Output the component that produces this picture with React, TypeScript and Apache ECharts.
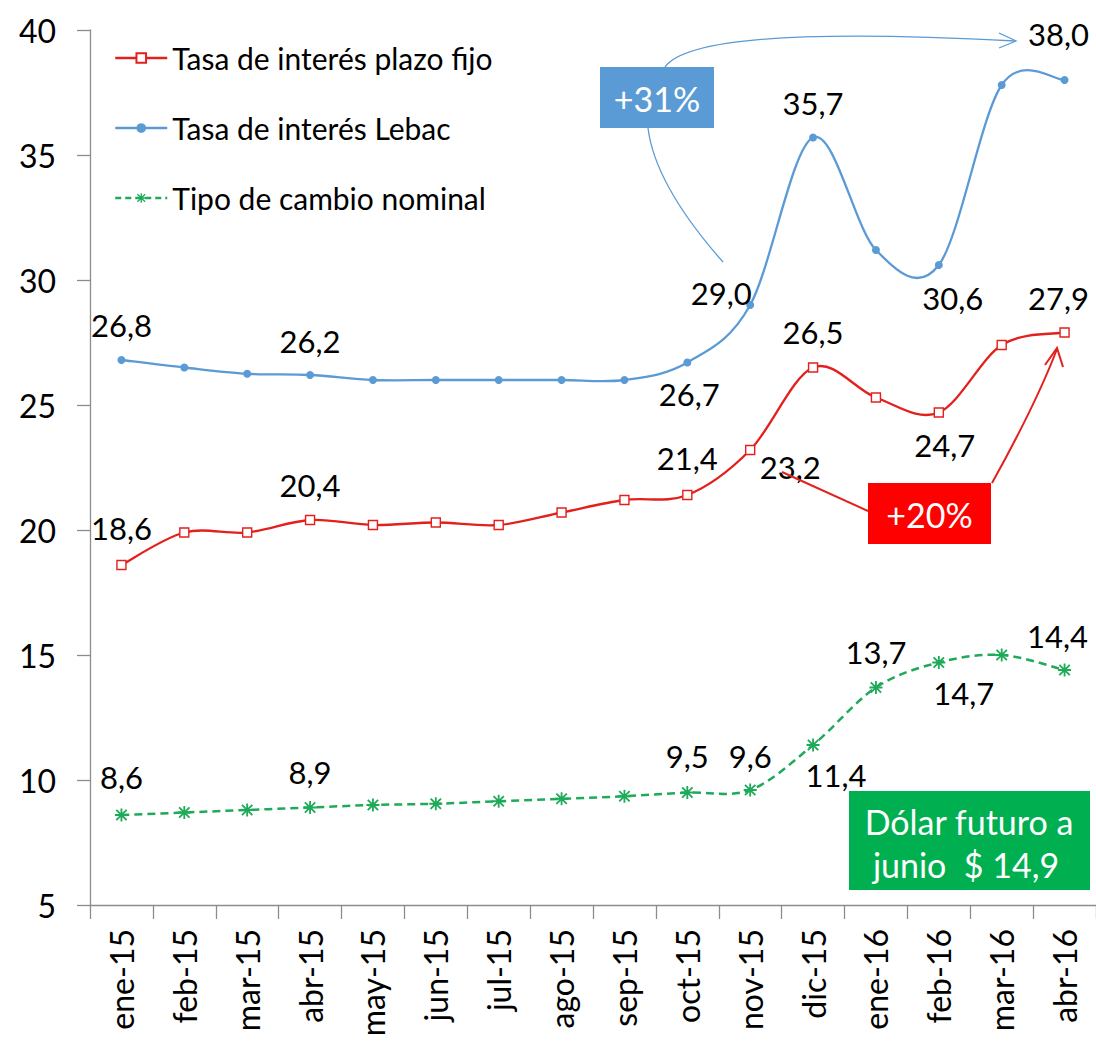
import React, { useEffect, useRef } from "react";
import * as echarts from "echarts";

const categories = [
  "ene-15", "feb-15", "mar-15", "abr-15", "may-15", "jun-15", "jul-15", "ago-15",
  "sep-15", "oct-15", "nov-15", "dic-15", "ene-16", "feb-16", "mar-16", "abr-16",
];
const seriesNames = ["Tasa de interés plazo fijo", "Tasa de interés Lebac", "Tipo de cambio nominal"];
const plazoFijo = [18.6, 19.9, 19.9, 20.4, 20.2, 20.3, 20.2, 20.7, 21.2, 21.4, 23.2, 26.5, 25.3, 24.7, 27.4, 27.9];
const lebac = [26.8, 26.5, 26.25, 26.2, 26.0, 26.0, 26.0, 26.0, 26.0, 26.7, 29.0, 35.7, 31.2, 30.6, 37.8, 38.0];
const tipoCambio = [8.6, 8.7, 8.8, 8.9, 9.0, 9.05, 9.15, 9.25, 9.35, 9.5, 9.6, 11.4, 13.7, 14.7, 15.0, 14.4];
const yMin = 5;
const yMax = 40;
const yStep = 5;

// which points carry a value label: [index, dx, dy] offset of the label centre from the point
const plazoLabels = [[0, 0, -37], [3, 0, -35], [9, 0, -37], [10, 40, 17], [11, 0, -36], [13, 6, 32], [15, -6, -35]];
const lebacLabels = [[0, 0, -35], [3, 0, -34], [9, 2, 31], [10, -29, -12], [11, 0, -35], [13, 14, 33], [15, -6, -46]];
const cambioLabels = [[0, 0, -38], [3, 0, -36], [9, 0, -37], [10, 0, -34], [11, 23, 30], [12, 0, -36], [13, 25, 30], [15, -7, -34]];

const annotations = {
  lebac: "+31%",
  plazo: "+20%",
  dolar1: "Dólar futuro a",
  dolar2: "junio  $ 14,9",
};

const FONT = "Lato, 'Open Sans', sans-serif";
const RED = "#E2201C";
const BLUE = "#5B9BD5";
const GREEN = "#1FAA5A";
const AXIS = "#8C8C8C";

const ASTERISK =
  "path://M0,4.3L10,4.3L10,5.7L0,5.7Z M4.3,0L5.7,0L5.7,10L4.3,10Z M0.5,1.5L1.5,0.5L9.5,8.5L8.5,9.5Z M8.5,0.5L9.5,1.5L1.5,9.5L0.5,8.5Z";

function withLabels(values: number[], labels: number[][]) {
  return values.map((v, i) => {
    const l = labels.find((x) => x[0] === i);
    if (!l) return v;
    return {
      value: v,
      label: { show: true, position: "inside", offset: [l[1], l[2]] },
    };
  });
}

const fmt = (p: any) => Number(p.value).toFixed(1).replace(".", ",");

const labelStyle = {
  show: false,
  formatter: fmt,
  color: "#000",
  fontSize: 31,
  fontFamily: FONT,
};

// Excel-like smoothed line (Catmull-Rom through the points given by the axis scales)
function smoothCurve(values: number[], color: string, width: number, dash: number[] | null) {
  return {
    type: "custom",
    name: "curve",
    z: 2,
    silent: true,
    data: values.map((v, i) => [i, v]),
    renderItem: (params: any, api: any) => {
      if (params.dataIndex !== 0) return null;
      const pts = values.map((v, i) => api.coord([i, v]));
      let d = `M${pts[0][0]},${pts[0][1]}`;
      for (let i = 0; i < pts.length - 1; i++) {
        const p0 = pts[i - 1] || pts[i];
        const p1 = pts[i];
        const p2 = pts[i + 1];
        const p3 = pts[i + 2] || pts[i + 1];
        const c1x = p1[0] + (p2[0] - p0[0]) / 6;
        const c1y = p1[1] + (p2[1] - p0[1]) / 6;
        const c2x = p2[0] - (p3[0] - p1[0]) / 6;
        const c2y = p2[1] - (p3[1] - p1[1]) / 6;
        d += ` C${c1x},${c1y} ${c2x},${c2y} ${p2[0]},${p2[1]}`;
      }
      return {
        type: "path",
        shape: { pathData: d },
        style: { stroke: color, lineWidth: width, fill: null, lineDash: dash || undefined },
      };
    },
  };
}

export default function App() {
  const ref = useRef<HTMLDivElement>(null);

  useEffect(() => {
    if (!ref.current) return;
    const chart = echarts.init(ref.current, undefined, { renderer: "svg" });
    const boxText = (text: string, x: number, y: number) => ({
      type: "text", z: 11, x, y,
      style: { text, fill: "#fff", fontSize: 34, fontFamily: FONT, align: "center", verticalAlign: "middle" },
    });
    chart.setOption({
      animation: false,
      backgroundColor: "#fff",
      grid: { left: 90, right: -3, top: 30, bottom: 140, containLabel: false },
      legend: {
        orient: "vertical",
        left: 114,
        top: 41,
        padding: 0,
        itemWidth: 52,
        itemHeight: 12,
        itemGap: 36,
        data: [
          { name: seriesNames[0], lineStyle: { color: RED, width: 2.3, opacity: 1 } },
          { name: seriesNames[1], lineStyle: { color: BLUE, width: 2.3, opacity: 1 } },
          { name: seriesNames[2], lineStyle: { color: GREEN, width: 2.5, type: [6, 4], opacity: 1 } },
        ],
        textStyle: { fontSize: 30, fontFamily: FONT, color: "#000", lineHeight: 34 },
      },
      xAxis: {
        type: "category",
        data: categories,
        boundaryGap: true,
        axisLine: { lineStyle: { color: AXIS, width: 1.3 } },
        axisTick: { show: true, length: 14, lineStyle: { color: AXIS, width: 1.3 } },
        axisLabel: { rotate: 90, interval: 0, margin: 24, fontSize: 32, fontFamily: FONT, color: "#000" },
        splitLine: { show: false },
      },
      yAxis: {
        type: "value",
        min: yMin,
        max: yMax,
        interval: yStep,
        axisLine: { show: true, lineStyle: { color: AXIS, width: 1.3 } },
        axisTick: { show: true, length: 13, lineStyle: { color: AXIS, width: 1.3 } },
        axisLabel: { margin: 34, fontSize: 32, fontFamily: FONT, color: "#000" },
        splitLine: { show: false },
      },
      series: [
        {
          name: seriesNames[0],
          type: "line",
          symbol: "rect",
          symbolSize: 9,
          showAllSymbol: true,
          data: withLabels(plazoFijo, plazoLabels),
          lineStyle: { color: RED, width: 2.3, opacity: 0 },
          itemStyle: { color: "#fff", borderColor: RED, borderWidth: 1.4 },
          label: labelStyle,
          z: 3,
        },
        {
          name: seriesNames[1],
          type: "line",
          symbol: "circle",
          symbolSize: 8,
          showAllSymbol: true,
          data: withLabels(lebac, lebacLabels),
          lineStyle: { color: BLUE, width: 2.3, opacity: 0 },
          itemStyle: { color: BLUE },
          label: labelStyle,
          z: 3,
        },
        {
          name: seriesNames[2],
          type: "line",
          symbol: ASTERISK,
          symbolSize: 13,
          showAllSymbol: true,
          data: withLabels(tipoCambio, cambioLabels),
          lineStyle: { color: GREEN, width: 2.5, type: [8, 5], opacity: 0 },
          itemStyle: { color: GREEN },
          label: labelStyle,
          z: 3,
        },
        smoothCurve(plazoFijo, RED, 2.3, null),
        smoothCurve(lebac, BLUE, 2.3, null),
        smoothCurve(tipoCambio, GREEN, 2.5, [8, 5]),
      ],
      graphic: [
        // Lebac annotation
        { type: "rect", z: 10, shape: { x: 600, y: 67, width: 114, height: 61 }, style: { fill: BLUE } },
        boxText(annotations.lebac, 657, 98),
        {
          type: "bezierCurve", z: 10,
          shape: { x1: 665, y1: 67, cpx1: 690, cpy1: 32, cpx2: 850, cpy2: 32, x2: 1015, y2: 41 },
          style: { stroke: BLUE, lineWidth: 1.3, fill: null },
        },
        {
          type: "polyline", z: 10,
          shape: { points: [[999, 33], [1016, 41], [999, 48]] },
          style: { stroke: BLUE, lineWidth: 1.3, fill: null },
        },
        {
          type: "bezierCurve", z: 10,
          shape: { x1: 648, y1: 128, cpx1: 655, cpy1: 185, x2: 723, y2: 262 },
          style: { stroke: BLUE, lineWidth: 1.3, fill: null },
        },
        // Plazo fijo annotation
        { type: "rect", z: 10, shape: { x: 868, y: 483, width: 123, height: 61 }, style: { fill: "#FF0000" } },
        boxText(annotations.plazo, 929.5, 514),
        {
          type: "bezierCurve", z: 10,
          shape: { x1: 868, y1: 511, cpx1: 822, cpy1: 490, x2: 782, y2: 472 },
          style: { stroke: RED, lineWidth: 2, fill: null },
        },
        {
          type: "bezierCurve", z: 10,
          shape: { x1: 992, y1: 483, cpx1: 1036, cpy1: 404, x2: 1057, y2: 349 },
          style: { stroke: RED, lineWidth: 2, fill: null },
        },
        {
          type: "polyline", z: 10,
          shape: { points: [[1045, 365], [1057, 348], [1063, 367]] },
          style: { stroke: RED, lineWidth: 2, fill: null },
        },
        // Dólar futuro annotation
        { type: "rect", z: 10, shape: { x: 849, y: 791, width: 241, height: 99 }, style: { fill: "#00B050" } },
        boxText(annotations.dolar1, 969, 821),
        boxText(annotations.dolar2, 966, 864),
      ],
    });
    return () => chart.dispose();
  }, []);

  return (
    <div
      ref={ref}
      style={{ position: "absolute", left: 0, top: 0, width: 1096, height: 1045 }}
    />
  );
}
